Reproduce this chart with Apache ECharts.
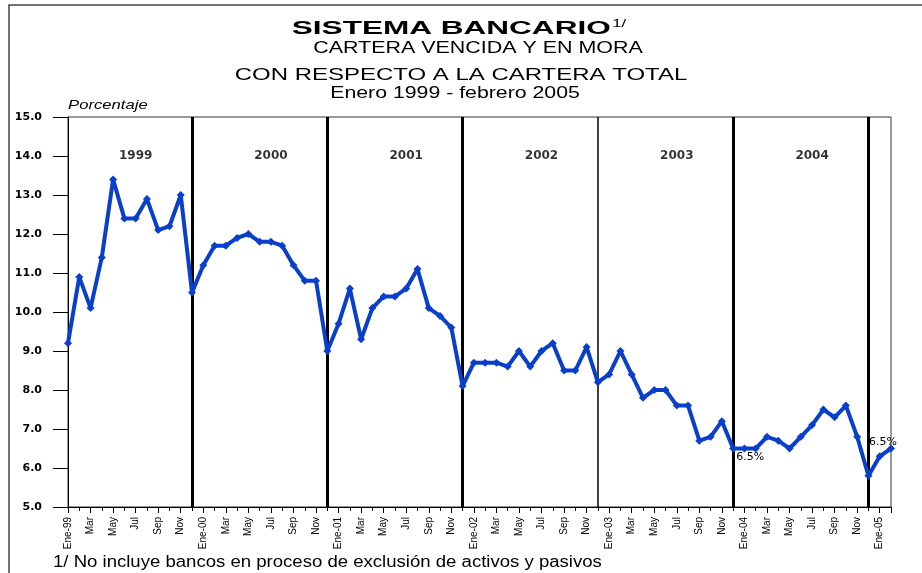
<!DOCTYPE html>
<html>
<head>
<meta charset="utf-8">
<script src="https://cdn.jsdelivr.net/npm/echarts@6/dist/echarts.min.js"></script>
<style>
  html, body { margin: 0; padding: 0; background: #fff; }
  #grafiek { width: 922px; height: 573px; }
</style>
</head>
<body>
<div id="grafiek"></div>
<script>
// maanden en jaren voor de as
const meses = ['Ene', 'Feb', 'Mar', 'Abr', 'May', 'Jun', 'Jul', 'Ago', 'Sep', 'Oct', 'Nov', 'Dic'];
const anios = ['1999', '2000', '2001', '2002', '2003', '2004', '2005'];

// cartera vencida y en mora, porcentaje
const v1999 = [9.2, 10.9, 10.1, 11.4, 13.4, 12.4, 12.4, 12.9, 12.1, 12.2, 13.0, 10.5];
const v2000 = [11.2, 11.7, 11.7, 11.9, 12.0, 11.8, 11.8, 11.7, 11.2, 10.8, 10.8, 9.0];
const v2001 = [9.7, 10.6, 9.3, 10.1, 10.4, 10.4, 10.6, 11.1, 10.1, 9.9, 9.6, 8.1];
const v2002 = [8.7, 8.7, 8.7, 8.6, 9.0, 8.6, 9.0, 9.2, 8.5, 8.5, 9.1, 8.2];
const v2003 = [8.4, 9.0, 8.4, 7.8, 8.0, 8.0, 7.6, 7.6, 6.7, 6.8, 7.2, 6.5];
const v2004 = [6.5, 6.5, 6.8, 6.7, 6.5, 6.8, 7.1, 7.5, 7.3, 7.6, 6.8, 5.8];
const v2005 = [6.3, 6.5];

// ticks y-as
const yTicks = [5, 6, 7, 8, 9, 10, 11, 12, 13, 14, 15];

const valores = [].concat(v1999, v2000, v2001, v2002, v2003, v2004, v2005);

// label per maand: Ene-99, Feb, Mar ...
const etiquetas = valores.map((v, i) => {
    let m = meses[i % 12];
    let a = anios[Math.floor(i / 12)];
    return m === 'Ene' ? m + '-' + a.slice(2) : m;
});

let grafiek = echarts.init(document.getElementById('grafiek'));

// alleen dec-2003 en laatste punt krijgen een "6.5%" label
let lijnData = valores.map((v, i) => {
    let p = { value: [i, v] };
    if (i === 59) {
        p.label = { show: true, position: [7, 7], align: 'left', verticalAlign: 'top' };
    } else if (i === valores.length - 1) {
        p.label = { show: true, position: 'top', distance: 0, offset: [-8, 3] };
    }
    return p;
});

// scheidingslijnen op december van elk jaar (die van 2002 is dunner)
let jaarLijnen = anios.slice(0, 6).map((a, k) => ({
    xAxis: k * 12 + 11,
    lineStyle: { width: a === '2002' ? 1.5 : 3, color: '#000', type: 'solid' }
}));

let jaarLabels = anios.slice(0, 6).map((a, k) => [k * 12 + 6, 14.0, a]);

function tekst(txt, x, y, size, scaleX, extra) {
    return {
        type: 'text', x: x, y: y, scaleX: scaleX, silent: true,
        style: Object.assign({
            text: txt, fontFamily: 'Liberation Sans', fontSize: size, fill: '#000',
            align: 'center', verticalAlign: 'middle'
        }, extra || {})
    };
}

let option = {
    backgroundColor: '#fff',
    animation: false,
    grid: {
        left: 68, top: 117, right: 31, bottom: 66,
        show: true, borderColor: '#333', borderWidth: 1
    },
    graphic: [
        {
            type: 'rect', silent: true,
            shape: { x: 9, y: 5, width: 940, height: 600 },
            style: { fill: null, stroke: '#444', lineWidth: 1.5 }
        },
        {
            type: 'text', x: 459, y: 29, scaleX: 1.66, silent: true,
            style: {
                text: '{t|SISTEMA BANCARIO}{s|1/}',
                align: 'center', verticalAlign: 'middle',
                rich: {
                    t: { fontFamily: 'Liberation Sans', fontWeight: 'bold', fontSize: 19, fill: '#000' },
                    s: { fontFamily: 'Liberation Sans', fontSize: 10, fill: '#000', verticalAlign: 'top', padding: [0, 0, 10, 1] }
                }
            }
        },
        tekst('CARTERA VENCIDA Y EN MORA', 478, 49, 16, 1.34),
        tekst('CON RESPECTO A LA CARTERA TOTAL', 461, 75, 17, 1.41),
        tekst('Enero 1999 - febrero 2005', 455, 94, 16, 1.33),
        tekst('Porcentaje', 68, 106, 12, 1.39, { align: 'left', fontStyle: 'italic' }),
        tekst('1/ No incluye bancos en proceso de exclusión de activos y pasivos', 53, 563, 16, 1.16, { align: 'left' })
    ],
    xAxis: {
        type: 'value',
        min: 0,
        max: valores.length - 1,
        interval: 2,
        splitLine: { show: false },
        axisLine: { show: true, onZero: false, lineStyle: { color: '#000', width: 1 } },
        axisTick: { show: true, length: 6, lineStyle: { color: '#000' } },
        minorTick: { show: true, splitNumber: 2, length: 4, lineStyle: { color: '#000' } },
        axisLabel: {
            rotate: 90,
            margin: 10,
            fontFamily: 'Liberation Sans Narrow, Liberation Sans',
            fontSize: 10,
            color: '#000',
            showMaxLabel: false,
            formatter: v => etiquetas[v] && v % 2 === 0 ? etiquetas[v] : ''
        }
    },
    yAxis: {
        type: 'value',
        min: yTicks[0],
        max: yTicks[yTicks.length - 1],
        interval: 1,
        splitLine: { show: false },
        axisLine: { show: true, lineStyle: { color: '#000', width: 1 } },
        axisTick: { show: true, length: 15, lineStyle: { color: '#000' } },
        axisLabel: {
            margin: 26,
            fontFamily: 'DejaVu Sans',
            fontWeight: 'bold',
            fontSize: 11,
            color: '#000',
            formatter: v => v.toFixed(1)
        }
    },
    series: [
        {
            name: 'jaren',
            type: 'scatter',
            symbolSize: 0,
            silent: true,
            data: jaarLabels,
            itemStyle: { color: '#000' },
            label: {
                show: true,
                position: 'inside',
                formatter: p => p.data[2],
                fontFamily: 'DejaVu Sans',
                fontWeight: 'bold',
                fontSize: 12,
                color: '#000',
                textBorderColor: 'transparent',
                textBorderWidth: 0
            },
            markLine: {
                silent: true,
                symbol: 'none',
                label: { show: false },
                data: jaarLijnen
            }
        },
        {
            name: 'cartera',
            type: 'line',
            data: lijnData,
            symbol: 'diamond',
            symbolSize: 8,
            lineStyle: { color: '#0a3fcc', width: 4 },
            itemStyle: { color: '#0a3fcc' },
            label: {
                show: false,
                formatter: p => p.value[1].toFixed(1) + '%',
                fontFamily: 'DejaVu Sans',
                fontSize: 11,
                color: '#000'
            },
            z: 5
        }
    ]
};
grafiek.setOption(option);
</script>
</body>
</html>
